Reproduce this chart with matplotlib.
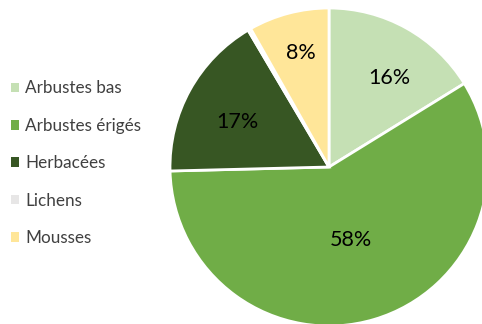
import matplotlib
matplotlib.use("Agg")
import matplotlib.pyplot as plt
import numpy as np
from matplotlib.patches import Patch

categories = ["Arbustes bas", "Arbustes érigés", "Herbacées", "Lichens", "Mousses"]
values = [16.2, 58.4, 16.9, 0.3, 8.2]
colors = ["#C5E0B4", "#70AD47", "#375623", "#E7E6E6", "#FFE699"]
label_dist = [0.68, 0.48, 0.64, 0.7, 0.735]
label_shift = [-5, 0, 3, 0, -1]  # degrees, best-fit placement

plt.rcParams['font.family'] = ['Lato', 'DejaVu Sans']

W, H = 482, 324
fig = plt.figure(figsize=(W/100, H/100), dpi=100)
cx, cy, R = 329, 167, 159
ax = fig.add_axes([(cx-R)/W, (H-cy-R)/H, 2*R/W, 2*R/H])

wedges, _ = ax.pie(values, colors=colors, startangle=90, counterclock=False, radius=1,
                   wedgeprops=dict(edgecolor='white', linewidth=2), center=(0, 0))
ax.set_xlim(-1, 1); ax.set_ylim(-1, 1)
ax.set_aspect('equal'); ax.axis('off')
for w, v, d, s in zip(wedges, values, label_dist, label_shift):
    if round(v) < 1:
        continue
    ang = np.deg2rad((w.theta1 + w.theta2) / 2 + s)
    ax.text(d*np.cos(ang), d*np.sin(ang), f"{round(v)}%", ha='center', va='center',
            fontsize=15.5, color='#000000')

handles = [Patch(facecolor=c, edgecolor='none') for c in colors]
fig.legend(handles, categories, loc='upper left', bbox_to_anchor=(-0.01, 0.799), frameon=False,
           fontsize=12.3, handlelength=0.5, handleheight=0.5, handletextpad=0.35,
           labelspacing=1.25, labelcolor='#404040')
fig.savefig("out.png", dpi=100)
